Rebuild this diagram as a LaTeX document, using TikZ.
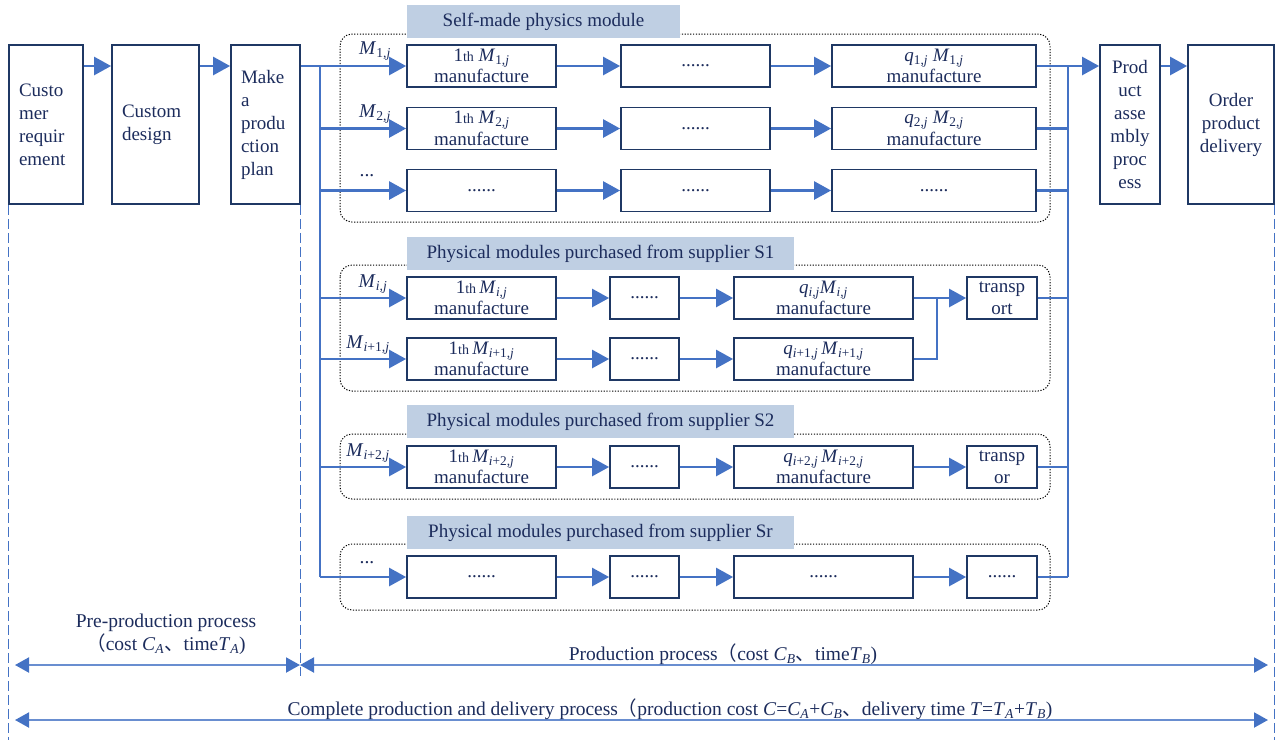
\documentclass[tikz,border=0pt]{standalone}
\usepackage{fontspec}
\setmainfont{Liberation Serif}
\newfontfamily\cjk{Noto Sans CJK SC}
\usetikzlibrary{arrows.meta}
\definecolor{navy}{HTML}{1F3864}
\definecolor{txt}{HTML}{1C2C5C}
\definecolor{ablue}{HTML}{4472C4}
\definecolor{lblue}{HTML}{BFCFE3}
\newcommand{\Mx}[1]{\textit{M}\textsubscript{#1}}
\newcommand{\qx}[1]{\textit{q}\textsubscript{#1}}
\newcommand{\thsm}{{\fontsize{14}{14}\selectfont th}}
\newcommand{\cj}[1]{{\cjk #1}}
\tikzset{
  box/.style={draw=navy, line width=1.8pt, inner sep=0pt, text=txt, align=center, font=\fontsize{19}{21.5}\selectfont},
  tall/.style={box, minimum height=159pt, font=\fontsize{19}{23}\selectfont},
  tallL/.style={tall, align=left, inner xsep=10pt, text width=#1},
  arr/.style={draw=ablue, line width=2.6pt, -{Triangle[length=17pt,width=18pt]}},
  ln/.style={draw=ablue, line width=2.6pt},
  grp/.style={draw=black, line width=1pt, dash pattern=on 1.2pt off 1.6pt, rounded corners=12pt},
  lab/.style={fill=lblue, inner sep=0pt, text=txt, font=\fontsize{19}{20}\selectfont},
  albl/.style={text=txt, font=\fontsize{19.5}{20}\selectfont, inner sep=0pt},
  dsh/.style={draw=ablue, line width=1pt, dash pattern=on 10pt off 4pt},
  barr/.style={draw=ablue!80, line width=2pt, {Triangle[length=14pt,width=15pt,color=ablue]}-{Triangle[length=14pt,width=15pt,color=ablue]}},
  btxt/.style={text=txt, font=\fontsize{19.5}{23}\selectfont, align=center, inner sep=0pt},
}
\begin{document}
\begin{tikzpicture}[x=1pt,y=-1pt]
\useasboundingbox (0,0) rectangle (1276,740);

% groups
\draw[grp] (340,34) rectangle (1050,222);
\draw[grp] (340,265) rectangle (1050,391);
\draw[grp] (340,434) rectangle (1050,499);
\draw[grp] (340,544) rectangle (1050,610);
\node[lab, minimum width=273pt, minimum height=33pt] (l0) at (543.5,21.5) {Self-made physics module};
\node[lab, minimum width=387pt, minimum height=33pt] (l1) at (600.5,253.5) {Physical modules purchased from supplier S1};
\node[lab, minimum width=387pt, minimum height=33pt] (l2) at (600.5,421.5) {Physical modules purchased from supplier S2};
\node[lab, minimum width=387pt, minimum height=33pt] (l3) at (600.5,532.5) {Physical modules purchased from supplier Sr};

% tall boxes
\node[tallL=54pt] (cust) at (46,124.5) {Custo\\mer\\requir\\ement};
\node[tallL=67pt] (des) at (155.5,124.5) {Custom\\design};
\node[tallL=49pt] (plan) at (265.5,124.5) {Make\\a\\produ\\ction\\plan};
\node[tall, minimum width=60pt] (prod) at (1130,124.5) {Prod\\uct\\asse\\mbly\\proc\\ess};
\node[tall, minimum width=86pt] (ord) at (1231,124.5) {Order\\product\\delivery};

% self-made rows
\node[box, minimum width=149pt, minimum height=42pt] (a1) at (481.5,66) {1\thsm\ \Mx{1,\textit{j}}\\manufacture};
\node[box, minimum width=149pt, minimum height=42pt] (b1) at (695.5,66) {......};
\node[box, minimum width=204pt, minimum height=42pt] (c1) at (934,66) {\qx{1,\textit{j}} \Mx{1,\textit{j}}\\manufacture};
\node[box, minimum width=149pt, minimum height=42pt] (a2) at (481.5,128.5) {1\thsm\ \Mx{2,\textit{j}}\\manufacture};
\node[box, minimum width=149pt, minimum height=42pt] (b2) at (695.5,128.5) {......};
\node[box, minimum width=204pt, minimum height=42pt] (c2) at (934,128.5) {\qx{2,\textit{j}} \Mx{2,\textit{j}}\\manufacture};
\node[box, minimum width=149pt, minimum height=42pt] (a3) at (481.5,190.5) {......};
\node[box, minimum width=149pt, minimum height=42pt] (b3) at (695.5,190.5) {......};
\node[box, minimum width=204pt, minimum height=42pt] (c3) at (934,190.5) {......};

% S1
\node[box, minimum width=149pt, minimum height=42pt] (d1) at (481.5,298) {1\thsm\,\Mx{\textit{i,j}}\\manufacture};
\node[box, minimum width=69pt, minimum height=42pt] (e1) at (644.5,298) {......};
\node[box, minimum width=179pt, minimum height=42pt] (f1) at (823.5,298) {\qx{\textit{i,j}}\Mx{\textit{i,j}}\\manufacture};
\node[box, minimum width=70pt, minimum height=42pt] (g1) at (1002,298) {transp\\ort};
\node[box, minimum width=149pt, minimum height=42pt] (d2) at (481.5,359) {1\thsm\,\Mx{\textit{i}+1,\textit{j}}\\manufacture};
\node[box, minimum width=69pt, minimum height=42pt] (e2) at (644.5,359) {......};
\node[box, minimum width=179pt, minimum height=42pt] (f2) at (823.5,359) {\qx{\textit{i}+1,\textit{j}}\,\Mx{\textit{i}+1,\textit{j}}\\manufacture};

% S2
\node[box, minimum width=149pt, minimum height=42pt] (d3) at (481.5,467) {1\thsm\,\Mx{\textit{i}+2,\textit{j}}\\manufacture};
\node[box, minimum width=69pt, minimum height=42pt] (e3) at (644.5,467) {......};
\node[box, minimum width=179pt, minimum height=42pt] (f3) at (823.5,467) {\qx{\textit{i}+2,\textit{j}}\,\Mx{\textit{i}+2,\textit{j}}\\manufacture};
\node[box, minimum width=70pt, minimum height=42pt] (g3) at (1002,467) {transp\\or};

% Sr
\node[box, minimum width=149pt, minimum height=42pt] (d4) at (481.5,577) {......};
\node[box, minimum width=69pt, minimum height=42pt] (e4) at (644.5,577) {......};
\node[box, minimum width=179pt, minimum height=42pt] (f4) at (823.5,577) {......};
\node[box, minimum width=70pt, minimum height=42pt] (g4) at (1002,577) {......};

% top chain
\draw[arr] (cust.east|-a1) -- (des.west|-a1);
\draw[arr] (des.east|-a1) -- (plan.west|-a1);
\coordinate (t0) at (320,66);
\coordinate (tend) at (320,577);
\draw[ln] (plan.east|-a1) -- (t0) -- (tend);
\draw[arr] (plan.east|-a1) -- (a1.west);
\draw[arr] (t0|-a2) -- (a2.west);
\draw[arr] (t0|-a3) -- (a3.west);
\draw[arr] (t0|-d1) -- (d1.west);
\draw[arr] (t0|-d2) -- (d2.west);
\draw[arr] (t0|-d3) -- (d3.west);
\draw[arr] (tend) -- (d4.west);

% row arrows
\foreach \u/\v in {a1/b1,b1/c1,a2/b2,b2/c2,a3/b3,b3/c3,d1/e1,e1/f1,d2/e2,e2/f2,d3/e3,e3/f3,f3/g3,d4/e4,e4/f4,f4/g4}
  \draw[arr] (\u.east) -- (\v.west);
\coordinate (m) at (937,298);
\draw[arr] (f1.east) -- (g1.west);
\draw[ln] (f2.east) -| (m);

% right collector
\coordinate (r0) at (1068,66);
\coordinate (rend) at (1068,577);
\draw[ln] (r0) -- (rend);
\draw[arr] (c1.east) -- (prod.west|-c1);
\foreach \u in {c2,c3,g1,g3,g4}
  \draw[ln] (\u.east) -- (r0|-\u);
\draw[arr] (prod.east|-c1) -- (ord.west|-c1);

% arrow labels
\node[albl] (la1) at (375,51) {\Mx{1,\textit{j}}};
\node[albl] (la2) at (375,114) {\Mx{2,\textit{j}}};
\node[albl] (la3) at (367,176) {...};
\node[albl] (ld1) at (373,284) {\Mx{\textit{i,j}}};
\node[albl] (ld2) at (368,345) {\Mx{\textit{i}+1,\textit{j}}};
\node[albl] (ld3) at (368,453) {\Mx{\textit{i}+2,\textit{j}}};
\node[albl] (ld4) at (367,563) {...};

% dashed guides
\draw[dsh] (cust.south west) -- (cust.south west|-0,740);
\draw[dsh] (plan.south east) -- (plan.south east|-0,676);
\draw[dsh] (ord.south east) -- (ord.south east|-0,740);

% bottom arrows
\coordinate (p0) at (15,665);
\coordinate (p1) at (300,665);
\coordinate (p2) at (1268,665);
\coordinate (q0) at (15,720);
\coordinate (q1) at (1268,720);
\draw[barr] (p0) -- (p1);
\draw[barr] (p1) -- (p2);
\draw[barr] (q0) -- (q1);
\node[btxt] (tpre) at (166,634) {Pre-production process\\\cj{（}cost \textit{C}\textsubscript{\textit{A}}\cj{、}time\textit{T}\textsubscript{\textit{A}})};
\node[btxt] (tprod) at (723,654) {Production process\cj{（}cost \textit{C}\textsubscript{\textit{B}}\cj{、}time\textit{T}\textsubscript{\textit{B}})};
\node[btxt] (tall) at (670,709) {Complete production and delivery process\cj{（}production cost \textit{C}=\textit{C}\textsubscript{\textit{A}}+\textit{C}\textsubscript{\textit{B}}\cj{、}delivery time \textit{T}=\textit{T}\textsubscript{\textit{A}}+\textit{T}\textsubscript{\textit{B}})};
\end{tikzpicture}
\end{document}
